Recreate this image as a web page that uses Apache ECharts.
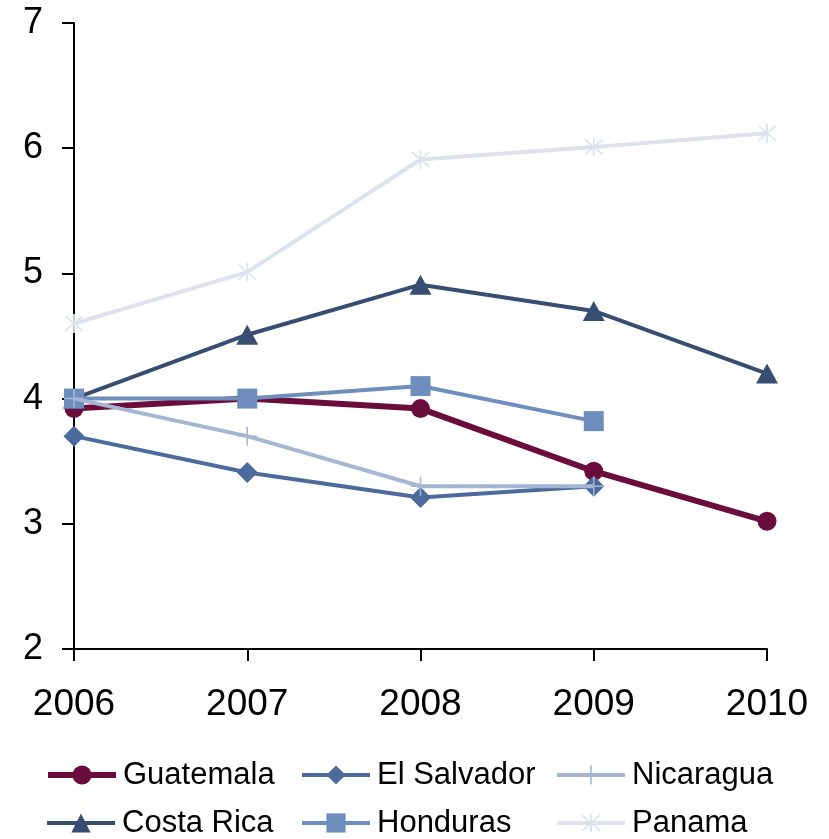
<!DOCTYPE html>
<html>
<head>
<meta charset="utf-8">
<script src="https://cdn.jsdelivr.net/npm/echarts@6/dist/echarts.min.js"></script>
<style>
  html, body { margin: 0; padding: 0; background: #fff; }
  #chart { width: 829px; height: 839px; }
</style>
</head>
<body>
<div id="chart"></div>
<script>
// Years on the horizontal axis
const years = ['2006', '2007', '2008', '2009', '2010'];

// Values per country (null = no data)
const guatemala  = [3.92, 4.0, 3.92, 3.42, 3.02];
const elSalvador = [3.7, 3.41, 3.21, 3.3, null];
const nicaragua  = [4.0, 3.7, 3.3, 3.3, null];
const costaRica  = [4.0, 4.51, 4.91, 4.7, 4.2];
const honduras   = [4.0, 4.0, 4.1, 3.82, null];
const panama     = [4.6, 5.01, 5.91, 6.01, 6.12];

// Vertical axis range and step
const yMin = 2, yMax = 7, yStep = 1;

const FONT = 'Liberation Sans, Arial, sans-serif';

// Custom marker outlines
const plusPath = 'path://M9.2,0h1.6v20h-1.6z M0,9.2h20v1.6h-20z';
const starPath = 'path://M9.2,0h1.6v20h-1.6z M2.57,1.43L18.57,17.43L17.43,18.57L1.43,2.57z M17.43,1.43L18.57,2.57L2.57,18.57L1.43,17.43z';

function line(name, data, color, width, symbol, size, z) {
  return {
    name, type: 'line', data, z,
    symbol, symbolSize: size,
    showSymbol: true,
    connectNulls: false,
    lineStyle: { color, width },
    itemStyle: { color, borderWidth: 0 },
    emphasis: { disabled: true }
  };
}

const series = [
  line('Guatemala',   guatemala,  '#6a0d3d', 6,   'circle',   19, 2),
  line('El Salvador', elSalvador, '#4b6b9c', 4,   'diamond',  21, 3),
  line('Costa Rica',  costaRica,  '#374e72', 4,   'triangle', [22, 20], 4),
  line('Honduras',    honduras,   '#6e8fbd', 4,   'rect',     20, 5),
  line('Nicaragua',   nicaragua,  '#a4b6d3', 4,   plusPath,   19, 6),
  line('Panama',      panama,     '#dce3ee', 4,   starPath,   19, 7)
];

// One legend entry per slot so the 3x2 grid lines up in fixed columns
function legendItem(name, left, top, width) {
  return {
    left, top, padding: 0,
    itemWidth: 68, itemHeight: 24,
    data: [name],
    selectedMode: false,
    lineStyle: { width },
    textStyle: { fontFamily: FONT, fontSize: 31, color: '#000', lineHeight: 32, padding: [0, 0, 0, 2] }
  };
}

const chart = echarts.init(document.getElementById('chart'), null, { renderer: 'canvas' });
chart.setOption({
  animation: false,
  backgroundColor: '#fff',
  grid: { left: 74, right: 62, top: 23, bottom: 190, containLabel: false },
  legend: [
    legendItem('Guatemala',   45,  759, 6),
    legendItem('El Salvador', 300, 759, 4),
    legendItem('Nicaragua',   555, 759, 4),
    legendItem('Costa Rica',  45,  807, 4),
    legendItem('Honduras',    300, 807, 4),
    legendItem('Panama',      555, 807, 4)
  ],
  xAxis: {
    type: 'category', data: years, boundaryGap: false,
    axisLine: { onZero: false, lineStyle: { color: '#000', width: 2 } },
    axisTick: { show: true, length: 12, alignWithLabel: true, lineStyle: { color: '#000', width: 2 } },
    axisLabel: { fontFamily: FONT, fontSize: 37, color: '#000', margin: 37 },
    splitLine: { show: false }
  },
  yAxis: {
    type: 'value', min: yMin, max: yMax, interval: yStep,
    axisLine: { show: true, lineStyle: { color: '#000', width: 2 } },
    axisTick: { show: true, length: 12, lineStyle: { color: '#000', width: 2 } },
    axisLabel: { fontFamily: FONT, fontSize: 36, color: '#000', margin: 31 },
    splitLine: { show: false }
  },
  series
});
</script>
</body>
</html>
